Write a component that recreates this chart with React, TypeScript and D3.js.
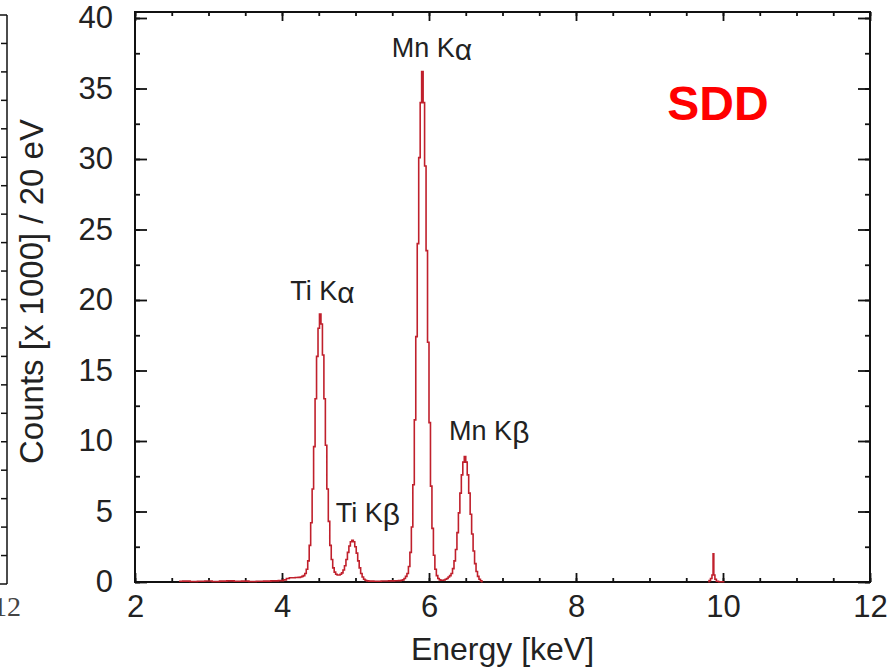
import React, { useEffect, useRef } from 'react'
import * as d3 from 'd3'

// spectrum, [energy keV, counts x1000]
const lowEnergyTail: [number, number][] = [
  [2.60, 0.05], [2.70, 0.06], [2.80, 0.04], [2.90, 0.05], [3.00, 0.07], [3.10, 0.04],
  [3.20, 0.06], [3.30, 0.08], [3.40, 0.05], [3.50, 0.06], [3.60, 0.04], [3.70, 0.05],
  [3.80, 0.06], [3.90, 0.08], [4.00, 0.1], [4.04, 0.15], [4.08, 0.25], [4.12, 0.3],
  [4.16, 0.3], [4.20, 0.32], [4.24, 0.33]
]

const tiPeaks: [number, number][] = [
  [4.26, 0.35], [4.28, 0.4], [4.30, 0.45], [4.32, 0.6], [4.34, 0.9], [4.36, 1.5],
  [4.38, 2.6], [4.40, 4.2], [4.42, 6.6], [4.44, 9.6], [4.46, 13.0], [4.48, 16.0],
  [4.50, 18.0], [4.52, 19.0], [4.54, 18.3], [4.56, 16.1], [4.58, 13.0], [4.60, 9.7],
  [4.62, 6.6], [4.64, 4.3], [4.66, 2.6], [4.68, 1.6], [4.70, 1.0], [4.72, 0.7],
  [4.74, 0.55], [4.76, 0.5], [4.78, 0.5], [4.80, 0.55], [4.82, 0.65], [4.84, 0.85],
  [4.86, 1.15], [4.88, 1.6], [4.90, 2.1], [4.92, 2.55], [4.94, 2.85], [4.96, 2.95],
  [4.98, 2.85], [5.00, 2.5], [5.02, 2.05], [5.04, 1.5], [5.06, 1.0], [5.08, 0.6],
  [5.10, 0.35], [5.12, 0.2], [5.14, 0.12], [5.16, 0.08]
]

const valley: [number, number][] = [
  [5.20, 0.06], [5.30, 0.05], [5.40, 0.07], [5.50, 0.08], [5.56, 0.09]
]

const mnPeaks: [number, number][] = [
  [5.61, 0.1], [5.63, 0.12], [5.65, 0.15], [5.67, 0.25], [5.69, 0.4], [5.71, 0.6],
  [5.73, 1.1], [5.75, 2.1], [5.77, 3.9], [5.79, 6.9], [5.81, 11.5], [5.83, 17.4],
  [5.85, 24.0], [5.87, 30.1], [5.89, 34.0], [5.91, 36.2], [5.93, 34.0], [5.95, 29.5],
  [5.97, 23.5], [5.99, 17.0], [6.01, 11.3], [6.03, 6.8], [6.05, 3.8], [6.07, 1.9],
  [6.09, 0.9], [6.11, 0.45], [6.13, 0.25], [6.15, 0.15], [6.17, 0.12], [6.19, 0.12],
  [6.21, 0.14], [6.23, 0.2], [6.25, 0.25], [6.27, 0.35], [6.29, 0.45], [6.31, 0.6],
  [6.33, 0.95], [6.35, 1.5], [6.37, 2.3], [6.39, 3.5], [6.41, 4.9], [6.43, 6.3],
  [6.45, 7.6], [6.47, 8.5], [6.49, 8.9], [6.51, 8.5], [6.53, 7.6], [6.55, 6.3],
  [6.57, 4.8], [6.59, 3.4], [6.61, 2.2], [6.63, 1.3], [6.65, 0.75], [6.67, 0.4],
  [6.69, 0.2], [6.71, 0.08], [6.73, 0.02]
]

const spikeNear10: [number, number][] = [
  [9.80, 0.02], [9.82, 0.1], [9.84, 0.25], [9.86, 0.5], [9.87, 2.0], [9.88, 0.5],
  [9.90, 0.2], [9.92, 0.05], [9.96, 0.02], [10.02, 0.02]
]

const xTicks = [2, 4, 6, 8, 10, 12]
const yTicks = [0, 5, 10, 15, 20, 25, 30, 35, 40]

const peakLabels = [
  { name: 'Ti K', greek: 'α', keV: 4.55, counts: 20.0 },
  { name: 'Ti K', greek: 'β', keV: 5.17, counts: 4.25 },
  { name: 'Mn K', greek: 'α', keV: 6.04, counts: 37.2 },
  { name: 'Mn K', greek: 'β', keV: 6.82, counts: 10.05 }
]

const W = 891
const H = 670
const FONT = '"Liberation Sans", Arial, Helvetica, sans-serif'
const LINE = '#c0202c'

function App () {
  const ref = useRef<SVGSVGElement>(null)

  useEffect(() => {
    const svg = d3.select(ref.current)
    svg.selectAll('*').remove()

    const x = d3.scaleLinear().domain([2, 12]).range([135, 870])
    const y = d3.scaleLinear().domain([0, 40]).range([582, 18])

    // cropped edge of the neighbouring panel on the left
    const yLeft = d3.scaleLinear().domain([0, 20]).range([584, 15])
    const left = svg.append('g').attr('stroke', '#111').attr('stroke-width', 1.5)
    left.append('line').attr('x1', 7).attr('x2', 7).attr('y1', yLeft(20)).attr('y2', yLeft(0))
    left.append('line').attr('x1', 0).attr('x2', 7).attr('y1', yLeft(20)).attr('y2', yLeft(20))
    left.append('line').attr('x1', 0).attr('x2', 7).attr('y1', yLeft(0)).attr('y2', yLeft(0))
    left.selectAll('.lt').data(d3.range(1, 20)).enter().append('line')
      .attr('x1', 1).attr('x2', 7)
      .attr('y1', d => yLeft(d)).attr('y2', d => yLeft(d))
    svg.append('text').attr('x', 21).attr('y', 616).attr('text-anchor', 'end')
      .attr('font-family', '"Liberation Serif", serif').attr('font-size', 28).attr('fill', '#444')
      .text('12')

    const g = svg.append('g')

    // plot frame
    g.append('rect')
      .attr('x', x(2)).attr('y', 12)
      .attr('width', x(12) - x(2)).attr('height', y(0) - 12)
      .attr('fill', 'none').attr('stroke', '#111').attr('stroke-width', 2)

    const minorX = d3.range(2, 12.001, 0.5)
    const minorY = d3.range(0, 40.001, 2.5)

    const styleAxis = (sel: any) => {
      sel.select('.domain').remove()
      sel.selectAll('line').attr('stroke', '#111').attr('stroke-width', 1.8)
      sel.selectAll('text').attr('font-family', FONT).attr('font-size', 31).attr('fill', '#222')
    }

    // bottom
    g.append('g').attr('transform', `translate(0,${y(0)})`)
      .call(d3.axisBottom(x).tickValues(minorX).tickSizeInner(-4).tickSizeOuter(0).tickFormat(() => ''))
      .call(styleAxis)
    g.append('g').attr('transform', `translate(0,${y(0)})`)
      .call(d3.axisBottom(x).tickValues(xTicks).tickSizeInner(-9).tickSizeOuter(0).tickPadding(13))
      .call(styleAxis)
    // top
    g.append('g').attr('transform', 'translate(0,12)')
      .call(d3.axisTop(x).tickValues(minorX).tickSizeInner(-4).tickSizeOuter(0).tickFormat(() => ''))
      .call(styleAxis)
    g.append('g').attr('transform', 'translate(0,12)')
      .call(d3.axisTop(x).tickValues(xTicks).tickSizeInner(-9).tickSizeOuter(0).tickFormat(() => ''))
      .call(styleAxis)
    // left
    g.append('g').attr('transform', `translate(${x(2)},0)`)
      .call(d3.axisLeft(y).tickValues(minorY).tickSizeInner(-5).tickSizeOuter(0).tickFormat(() => ''))
      .call(styleAxis)
    g.append('g').attr('transform', `translate(${x(2)},0)`)
      .call(d3.axisLeft(y).tickValues(yTicks).tickSizeInner(-12).tickSizeOuter(0).tickPadding(22))
      .call(styleAxis)
    // right
    g.append('g').attr('transform', `translate(${x(12)},0)`)
      .call(d3.axisRight(y).tickValues(minorY).tickSizeInner(-5).tickSizeOuter(0).tickFormat(() => ''))
      .call(styleAxis)
    g.append('g').attr('transform', `translate(${x(12)},0)`)
      .call(d3.axisRight(y).tickValues(yTicks).tickSizeInner(-12).tickSizeOuter(0).tickFormat(() => ''))
      .call(styleAxis)

    // spectrum as a histogram-like step line
    const line = d3.line<[number, number]>()
      .x(d => x(d[0]))
      .y(d => y(d[1]))
      .curve(d3.curveStep)

    const main = [...lowEnergyTail, ...tiPeaks, ...valley, ...mnPeaks]
    g.selectAll('.spec').data([main, spikeNear10]).enter().append('path')
      .attr('class', 'spec')
      .attr('d', d => line(d))
      .attr('fill', 'none')
      .attr('stroke', LINE)
      .attr('stroke-width', 1.6)
      .attr('stroke-linejoin', 'miter')

    // peak names
    const labels = g.selectAll('.pk').data(peakLabels).enter().append('text')
      .attr('class', 'pk')
      .attr('x', d => x(d.keV))
      .attr('y', d => y(d.counts))
      .attr('text-anchor', 'middle')
      .attr('font-family', FONT)
      .attr('font-size', 27)
      .attr('fill', '#222')
    labels.append('tspan').text(d => d.name)
    labels.append('tspan').attr('dy', 3).attr('font-size', 30).text(d => d.greek)

    // axis titles
    svg.append('text')
      .attr('x', (x(2) + x(12)) / 2).attr('y', 660)
      .attr('text-anchor', 'middle')
      .attr('font-family', FONT).attr('font-size', 32).attr('fill', '#222')
      .text('Energy [keV]')

    svg.append('text')
      .attr('transform', `translate(43,${y(20.6)}) rotate(-90)`)
      .attr('text-anchor', 'middle')
      .attr('font-family', FONT).attr('font-size', 33).attr('fill', '#222')
      .text('Counts [x 1000] / 20 eV')

    svg.append('text')
      .attr('x', 718).attr('y', 120)
      .attr('text-anchor', 'middle')
      .attr('font-family', FONT).attr('font-size', 48).attr('font-weight', 'bold')
      .attr('fill', '#ff0000')
      .text('SDD')
  }, [])

  return (
    <svg
      ref={ref}
      width={W}
      height={H}
      style={{ position: 'absolute', left: 0, top: 0, background: '#fff' }}
    />
  )
}

export default App
